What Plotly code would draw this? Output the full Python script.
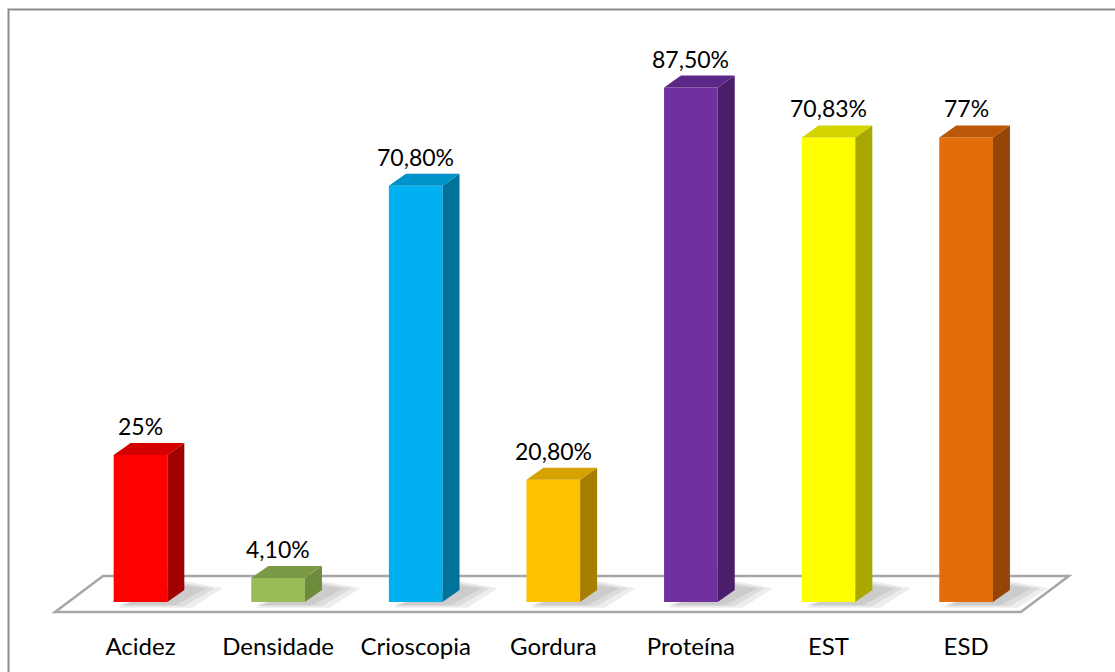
import plotly.graph_objects as go

# ---- data ----
categories = ["Acidez", "Densidade", "Crioscopia", "Gordura", "Proteína", "EST", "ESD"]
bar_heights = [25.0, 4.1, 70.8, 20.8, 87.5, 79.0, 79.0]
value_labels = ["25%", "4,10%", "70,80%", "20,80%", "87,50%", "70,83%", "77%"]

# ---- style ----
front_colors = ["#FF0000", "#9BBB59", "#00B0F0", "#FFC000", "#7030A0", "#FFFF00", "#E46C0A"]
side_colors = ["#A30000", "#6E8A3C", "#00739C", "#A87E00", "#4A1E6B", "#A8A800", "#964508"]
top_colors = ["#D40000", "#7C9A45", "#0093C9", "#D6A200", "#5C2787", "#D4D400", "#BA5808"]
FONT = "Lato"
BAR_W = 0.39      # front-face width (category units)
DX = 0.1235       # depth offset, x (category units)
DY = 2.04         # depth offset, y (value units)
FLOOR = dict(front_left=-0.621, front_right=6.398, back_left=-0.2725, back_right=6.747,
             front_y=-1.70, back_y=4.42)

x_pos = list(range(len(categories)))

fig = go.Figure(go.Bar(
    x=x_pos, y=bar_heights, width=BAR_W,
    marker=dict(color=front_colors, line=dict(width=0)),
    hoverinfo="skip", showlegend=False,
))

shapes = []
# floor
shapes.append(dict(
    type="path", xref="x", yref="y", layer="below",
    path=(f"M {FLOOR['front_left']},{FLOOR['front_y']} L {FLOOR['front_right']},{FLOOR['front_y']} "
          f"L {FLOOR['back_right']},{FLOOR['back_y']} L {FLOOR['back_left']},{FLOOR['back_y']} Z"),
    fillcolor="white", line=dict(color="#A6A6A6", width=2.5),
))

# soft shadows on the floor (layered to imitate blur)
for i in range(len(categories)):
    xl = x_pos[i] - BAR_W / 2
    xr = x_pos[i] + BAR_W / 2
    for k, g in enumerate([0.0, 0.06, 0.12]):
        shapes.append(dict(
            type="path", xref="x", yref="y", layer="below",
            path=(f"M {xl+0.03},{-0.5-g*4} L {xr+0.06+g},{-0.5-g*4} "
                  f"L {xr+DX+0.16+g},{DY+0.3} L {xr+DX},{DY+0.8+g*6} Z"),
            fillcolor="rgba(0,0,0,0.07)", line=dict(width=0),
        ))

for i, v in enumerate(bar_heights):
    xl = x_pos[i] - BAR_W / 2
    xr = x_pos[i] + BAR_W / 2
    # side face
    shapes.append(dict(
        type="path", xref="x", yref="y",
        path=f"M {xr},0 L {xr+DX},{DY} L {xr+DX},{v+DY} L {xr},{v} Z",
        fillcolor=side_colors[i], line=dict(width=0),
    ))
    # top face
    shapes.append(dict(
        type="path", xref="x", yref="y",
        path=f"M {xl},{v} L {xl+DX},{v+DY} L {xr+DX},{v+DY} L {xr},{v} Z",
        fillcolor=top_colors[i], line=dict(width=0),
    ))

# chart border
shapes.append(dict(
    type="rect", xref="paper", yref="paper",
    x0=8.5 / 1115, x1=1.02, y0=-0.2, y1=1 - 9.5 / 627,
    line=dict(color="#8C8C8C", width=2), fillcolor="rgba(0,0,0,0)",
))

annotations = [
    dict(x=x_pos[i], y=bar_heights[i], xref="x", yref="y", text=value_labels[i],
         showarrow=False, yanchor="middle", yshift=29,
         font=dict(family=FONT, size=23, color="black"))
    for i in range(len(categories))
]

fig.update_layout(
    width=1115, height=672, autosize=False,
    margin=dict(l=0, r=0, t=0, b=45),
    paper_bgcolor="white", plot_bgcolor="white",
    shapes=shapes, annotations=annotations,
    xaxis=dict(range=[-1.021, 7.082], tickvals=x_pos, ticktext=categories,
               showgrid=False, zeroline=False, showline=False, ticks="",
               ticklabelstandoff=3,
               tickfont=dict(family=FONT, size=24, color="black"), fixedrange=True),
    yaxis=dict(range=[-4.25, 102.38], visible=False, fixedrange=True),
    showlegend=False,
)

fig.write_html("out.html", config={"displayModeBar": False})
